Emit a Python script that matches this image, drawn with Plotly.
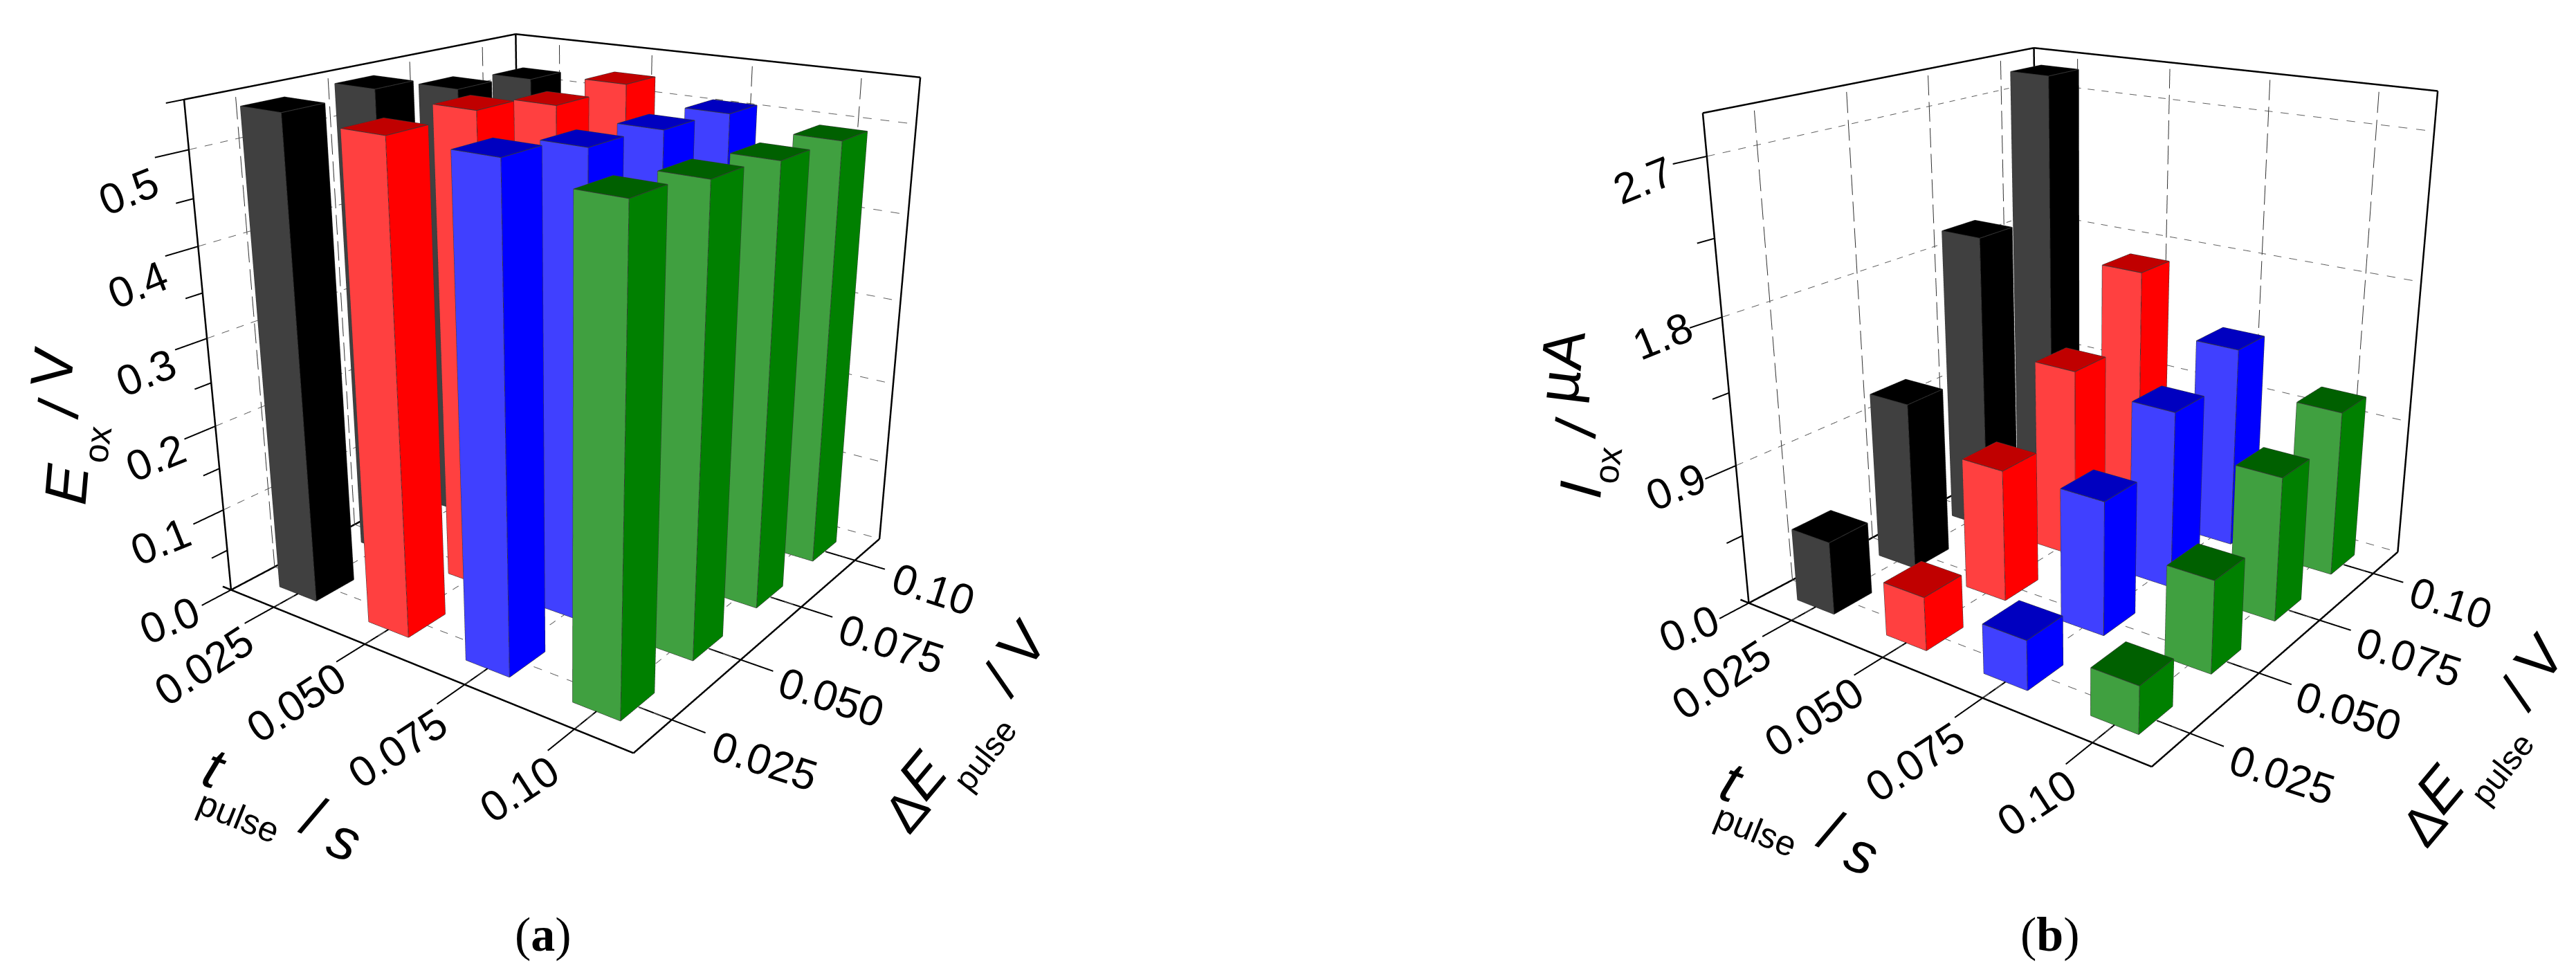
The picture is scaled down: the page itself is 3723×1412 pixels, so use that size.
import plotly.graph_objects as go

W, H = 3723, 1412

t_labels = ["0.025", "0.050", "0.075", "0.10"]
dE_labels = ["0.025", "0.050", "0.075", "0.10"]

# values, one list per t_pulse (rows along dE_pulse)
E_black = [0.542, 0.545, 0.525, 0.517]
E_red = [0.536, 0.538, 0.522, 0.525]
E_blue = [0.533, 0.518, 0.512, 0.507]
E_green = [0.516, 0.506, 0.498, 0.494]

I_black = [0.47, 1.10, 1.97, 2.86]
I_red = [0.34, 0.85, 1.25, 1.70]
I_blue = [0.31, 0.85, 1.15, 1.33]
I_green = [0.29, 0.58, 0.92, 1.08]

E_major = [0.0, 0.1, 0.2, 0.3, 0.4, 0.5]
E_minor = [0.05, 0.15, 0.25, 0.35, 0.45, 0.55]
I_major = [0.0, 0.9, 1.8, 2.7]
I_minor = [0.45, 1.35, 2.25]

# light side, dark side, top
colors = [
    ("#404040", "#000000", "#000000"),
    ("#ff4040", "#ff0000", "#c00000"),
    ("#4040ff", "#0000ff", "#0000c0"),
    ("#40a040", "#008000", "#006000"),
]

BAR_X = 0.42 / 2
BAR_Y = 0.45 / 2
PAD = 0.6  # room outside the box for the tick marks


def bars_mesh(rows, scene):
    xs, ys, zs, ii, jj, kk, fc = [], [], [], [], [], [], []
    ex, ey, ez = [], [], []
    for r, row in enumerate(rows):
        light, dark, top = colors[r]
        for c, v in enumerate(row):
            n = len(xs)
            x0, x1 = r - BAR_X, r + BAR_X
            y0, y1 = c - BAR_Y, c + BAR_Y
            xs += [x0, x1, x1, x0, x0, x1, x1, x0]
            ys += [y0, y0, y1, y1, y0, y0, y1, y1]
            zs += [0, 0, 0, 0, v, v, v, v]
            quads = [
                ((0, 1, 5, 4), light),  # -y side
                ((1, 2, 6, 5), dark),   # +x side
                ((4, 5, 6, 7), top),
                ((2, 3, 7, 6), dark),
                ((3, 0, 4, 7), light),
            ]
            for q, col in quads:
                ii += [n + q[0], n + q[0]]
                jj += [n + q[1], n + q[2]]
                kk += [n + q[2], n + q[3]]
                fc += [col, col]
            for a, b in [(0, 1), (1, 2), (1, 5), (0, 4), (2, 6), (4, 5), (5, 6), (6, 7), (7, 4)]:
                ex += [xs[n + a], xs[n + b], None]
                ey += [ys[n + a], ys[n + b], None]
                ez += [zs[n + a], zs[n + b], None]
    mesh = go.Mesh3d(x=xs, y=ys, z=zs, i=ii, j=jj, k=kk, facecolor=fc, flatshading=True,
                     lighting=dict(ambient=1, diffuse=0, specular=0, roughness=1, fresnel=0),
                     hoverinfo="skip", scene=scene, showscale=False)
    edges = go.Scatter3d(x=ex, y=ey, z=ez, mode="lines", line=dict(color="#383838", width=2),
                         hoverinfo="skip", scene=scene, showlegend=False)
    return mesh, edges


def lines(segs, scene, color="black", width=3):
    lx, ly, lz = [], [], []
    for a, b in segs:
        lx += [a[0], b[0], None]
        ly += [a[1], b[1], None]
        lz += [a[2], b[2], None]
    return go.Scatter3d(x=lx, y=ly, z=lz, mode="lines", line=dict(color=color, width=width),
                        hoverinfo="skip", scene=scene, showlegend=False)


# plotly scales its dash patterns with the data units, so cut the dashes by hand
def dashed(segs, n, fill):
    out = []
    for a, b in segs:
        for i in range(n):
            s, e = i / n, (i + fill) / n
            out.append((tuple(a[k] + (b[k] - a[k]) * s for k in range(3)),
                        tuple(a[k] + (b[k] - a[k]) * e for k in range(3))))
    return out


def frame(top, major, minor, scene):
    lo, hi = -0.5, 3.5
    cats = range(4)
    out = []
    # box edges
    out.append(lines([((lo - 0.1, lo, 0), (hi, lo, 0)), ((hi, lo, 0), (hi, hi, 0)),
                      ((lo, lo, 0), (lo, lo, top)), ((lo, lo, top), (lo, hi, top)),
                      ((lo, hi, top), (hi, hi, top)), ((lo, hi, 0), (lo, hi, top)),
                      ((lo, lo, 0), (lo, hi, 0)), ((hi, hi, 0), (hi, hi, top))], scene, width=5))
    # ticks
    ticks = [((c, lo - 0.32, 0), (c, lo + 0.32, 0)) for c in cats]
    ticks += [((hi - 0.28, c, 0), (hi + 0.28, c, 0)) for c in cats]
    ticks += [((lo, lo, z), (lo, lo - 0.32, z)) for z in major]
    ticks += [((lo, lo, z), (lo, lo - 0.17, z)) for z in minor]
    out.append(lines(ticks, scene, width=4))
    # grid on the floor and back walls
    dots = [((c, lo, 0), (c, hi, 0)) for c in cats] + [((lo, c, 0), (hi, c, 0)) for c in cats]
    dots += [((lo, hi, 0), (hi, hi, 0))]
    dots += [((lo, lo, z), (lo, hi, z)) for z in major[1:]] + [((lo, hi, z), (hi, hi, z)) for z in major[1:]]
    out.append(lines(dashed(dots, 26, 0.5), scene, color="#606060", width=2))
    verts = [((lo, c, 0), (lo, c, top)) for c in cats] + [((c, hi, 0), (c, hi, top)) for c in cats]
    out.append(lines(dashed(verts, 18, 0.75), scene, color="#303030", width=2))
    return out


fig = go.Figure()
E_rows = [E_black, E_red, E_blue, E_green]
I_rows = [I_black, I_red, I_blue, I_green]
E_top, I_top = 0.55, 2.93

for rows, top, major, minor, scene in [(E_rows, E_top, E_major, E_minor, "scene"),
                                       (I_rows, I_top, I_major, I_minor, "scene2")]:
    for tr in bars_mesh(rows, scene):
        fig.add_trace(tr)
    for tr in frame(top, major, minor, scene):
        fig.add_trace(tr)


def scene_layout(top, domain_x, center_z):
    hidden = dict(visible=False, showspikes=False)
    pad_z = top * 0.01
    return dict(
        domain=dict(x=domain_x, y=[212 / H, 1]),
        xaxis=dict(range=[-0.5 - PAD, 3.5 + PAD], **hidden),
        yaxis=dict(range=[-0.5 - PAD, 3.5 + PAD], **hidden),
        zaxis=dict(range=[-pad_z, top + pad_z], **hidden),
        aspectmode="manual",
        aspectratio=dict(x=(4 + 2 * PAD) / 4, y=(4 + 2 * PAD) / 4, z=1.016 * 1.02),
        camera=dict(eye=dict(x=1.682, y=-2.358, z=1.024), center=dict(x=0, y=0, z=center_z),
                    up=dict(x=0, y=0, z=1)),
        bgcolor="white",
    )


def label(text, x, y, angle=0, size=62, family="Liberation Sans"):
    return dict(text=text, x=x / W, y=1 - y / H, xref="paper", yref="paper", showarrow=False,
                xanchor="center", yanchor="middle", textangle=angle,
                font=dict(family=family, size=size, color="black"))


DX, DY = 2193, 20
ann = []
# tick labels common to both panels
x_pos = [(286, 954), (420, 1008), (566, 1073), (742, 1132)]
y_pos = [(1097, 1091), (1193, 999), (1280, 922), (1341, 843)]
for off in [(0, 0), (DX, DY)]:
    for s, p in zip(t_labels, x_pos):
        ann.append(label(s, p[0] + off[0], p[1] + off[1], -33))
    for s, p in zip(dE_labels, y_pos):
        ann.append(label(s, p[0] + off[0], p[1] + off[1], 18))
    ann.append(label("<i>t</i>", 302 + off[0], 1102 + off[1], 20, 84))
    ann.append(label("pulse", 337 + off[0], 1172 + off[1], 22, 51))
    ann.append(label("/", 445 + off[0], 1172 + off[1], 25, 84))
    ann.append(label("<i>s</i>", 490 + off[0], 1205 + off[1], 22, 84))
    ann.append(label("Δ", 1302 + off[0], 1163 + off[1], -50, 78))
    ann.append(label("<i>E</i>", 1325 + off[0], 1113 + off[1], -50, 84))
    ann.append(label("pulse", 1415 + off[0], 1083 + off[1], -52, 48))
    ann.append(label("/", 1438 + off[0], 975 + off[1], -50, 84))
    ann.append(label("V", 1470 + off[0], 923 + off[1], -50, 84))

# z tick labels
for s, x, y in [("0.5", 178, 269), ("0.4", 191, 403), ("0.3", 203, 530),
                ("0.2", 217, 653), ("0.1", 224, 774), ("0.0", 237, 888)]:
    ann.append(label(s, x, y, -22))
for s, x, y in [("2.7", 2367, 253), ("1.8", 2395, 478), ("0.9", 2414, 695), ("0.0", 2433, 900)]:
    ann.append(label(s, x, y, -22))

# z titles
ann.append(label("<i>E</i>", 88, 692, -85, 86))
ann.append(label("ox", 133, 635, -82, 50))
ann.append(label("/", 77, 582, -81, 84))
ann.append(label("V", 68, 523, -83, 84))
ann.append(label("<i>I</i>", 2276, 700, -85, 86))
ann.append(label("ox", 2316, 665, -82, 50))
ann.append(label("/", 2270, 610, -81, 84))
ann.append(label("µA", 2248, 522, -83, 84))

# captions
ann.append(label("(<b>a</b>)", 777, 1342, 0, 70, "Liberation Serif"))
ann.append(label("(<b>b</b>)", 2955, 1342, 0, 70, "Liberation Serif"))

fig.update_layout(
    width=W, height=H,
    margin=dict(l=0, r=0, t=0, b=0),
    paper_bgcolor="white",
    showlegend=False,
    scene=scene_layout(E_top, [0, 1620 / W], -0.175),
    scene2=scene_layout(I_top, [2285 / W, 1], -0.146),
    annotations=ann,
)

# the original has a longer lens than plotly's fixed 45 degrees
narrow_lens = """
var full = document.getElementById('{plot_id}')._fullLayout;
['scene', 'scene2'].forEach(function (name) {
    var plot = full[name]._scene.glplot;
    plot.fovy = 0.535;
    plot.redraw();
});
"""
fig.write_html("out.html", post_script=narrow_lens)
